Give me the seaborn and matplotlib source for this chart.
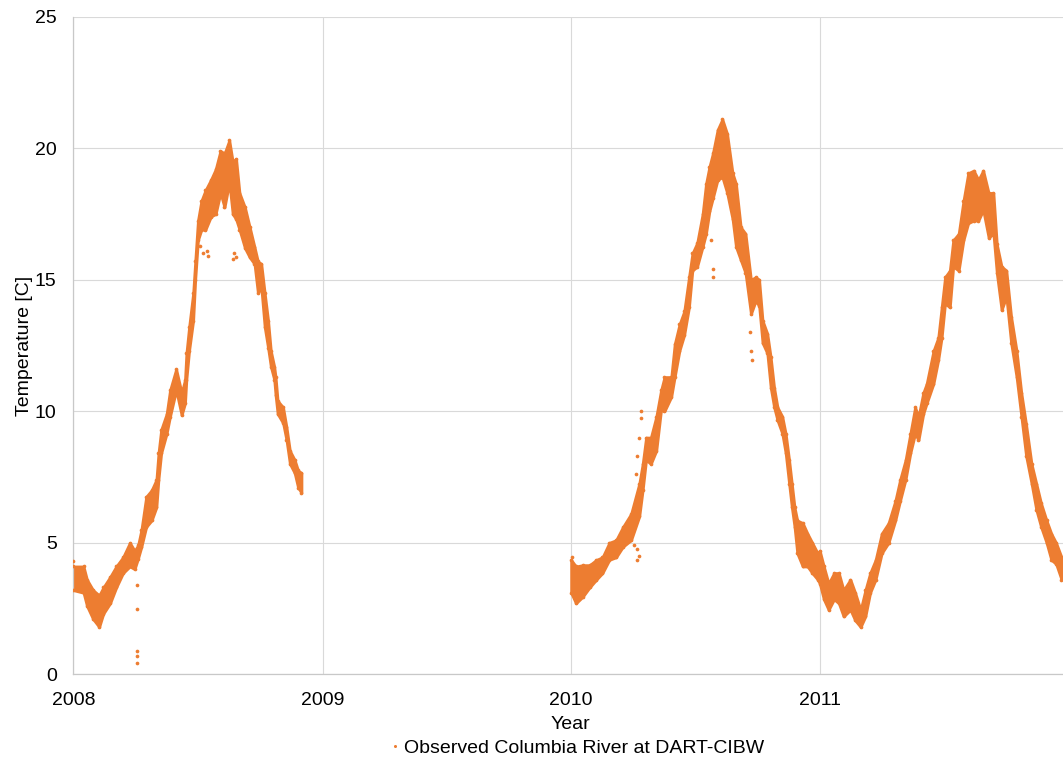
import numpy as np
import pandas as pd
import matplotlib
matplotlib.use("Agg")
import matplotlib.pyplot as plt
import matplotlib.dates as mdates
import seaborn as sns

# 2008 record: day since 2008-01-01, low / high of the daily scatter band [C]
days_2008 = [0, 15, 20, 29, 38, 44, 54, 63, 73, 83, 90, 95, 100, 107, 115, 122, 125,
             129, 137, 142, 151, 159, 164, 166, 170, 176, 179, 183, 188, 194, 202, 209,
             216, 222, 229, 234, 239, 244, 252, 259, 266, 271, 276, 281, 286, 290, 295,
             297, 300, 308, 313, 318, 325, 330, 335]
low_2008 = [3.2, 3.1, 2.6, 2.1, 1.8, 2.3, 2.7, 3.3, 3.85, 4.1, 4.0, 4.4, 4.85, 5.6, 5.85,
            6.35, 7.4, 8.4, 9.15, 9.8, 10.8, 9.85, 10.3, 11.2, 12.3, 13.45, 15.0, 16.5,
            16.9, 16.9, 17.4, 17.5, 18.3, 17.75, 18.7, 17.5, 17.3, 16.9, 16.2, 15.85, 15.6,
            14.5, 14.7, 13.2, 12.4, 11.7, 11.2, 10.6, 9.9, 9.55, 8.9, 8.0, 7.65, 7.1, 6.9]
high_2008 = [4.1, 4.1, 3.6, 3.2, 3.0, 3.3, 3.7, 4.1, 4.45, 5.0, 4.7, 4.9, 5.5, 6.75, 7.0,
             7.4, 8.4, 9.3, 9.9, 10.8, 11.6, 10.7, 11.2, 12.2, 13.2, 14.5, 15.7, 17.25,
             18.0, 18.4, 18.8, 19.2, 19.9, 19.8, 20.3, 19.5, 19.6, 18.3, 17.75, 17.0, 16.25,
             15.7, 15.6, 14.5, 13.45, 12.3, 11.7, 11.3, 10.4, 10.15, 9.4, 8.5, 8.15, 7.75,
             7.65]

# 2010-2011 record: day since 2010-01-01
days_1011 = [0, 7, 17, 27, 37, 46, 56, 66, 76, 88, 100, 105, 110, 117, 125, 132, 137, 147,
             152, 159, 166, 173, 178, 185, 193, 198, 203, 208, 215, 222, 229, 237, 242, 249,
             256, 264, 271, 276, 281, 288, 293, 298, 303, 310, 315, 320, 324, 328, 332, 340,
             347, 354, 362, 365, 371, 378, 386, 393, 400, 410, 417, 425, 432, 439, 447, 456,
             466, 476, 483, 491, 498, 505, 510, 517, 522, 532, 539, 544, 549, 556, 561, 569,
             576, 583, 591, 598, 605, 613, 620, 625, 632, 639, 646, 654, 661, 668, 676, 683,
             690, 698, 705, 712, 720]
low_1011 = [3.1, 2.7, 2.95, 3.3, 3.6, 3.85, 4.35, 4.45, 4.85, 5.1, 6.0, 7.0, 8.15, 8.0, 8.5,
            10.05, 10.0, 10.55, 11.3, 12.3, 12.9, 13.95, 15.35, 15.5, 16.25, 16.75, 17.6,
            18.1, 18.8, 18.9, 18.3, 17.3, 16.25, 15.75, 15.25, 13.7, 14.2, 14.0, 12.6, 12.2,
            10.9, 10.15, 9.65, 9.15, 8.4, 7.25, 6.35, 5.6, 4.6, 4.1, 4.1, 3.85, 3.6, 3.45,
            2.85, 2.45, 2.85, 2.7, 2.2, 2.45, 2.05, 1.8, 2.2, 3.1, 3.6, 4.6, 5.0, 5.85, 6.6,
            7.4, 8.4, 9.15, 8.9, 9.9, 10.3, 11.05, 11.95, 12.8, 14.1, 13.95, 15.5, 15.35,
            16.5, 17.15, 17.25, 17.25, 17.65, 16.6, 16.75, 15.25, 13.85, 14.35, 12.6, 11.3,
            9.8, 8.3, 7.25, 6.25, 5.6, 5.0, 4.35, 4.2, 3.6]
high_1011 = [4.35, 4.1, 4.15, 4.15, 4.35, 4.45, 5.0, 5.1, 5.6, 6.1, 7.25, 8.0, 9.0, 9.0, 9.8,
             10.8, 11.3, 11.3, 12.55, 13.3, 13.8, 15.1, 16.0, 16.4, 17.5, 18.65, 19.3, 19.8,
             20.7, 21.1, 20.55, 19.05, 18.65, 17.0, 16.75, 15.0, 15.1, 15.0, 13.45, 12.95,
             12.05, 10.9, 10.15, 9.8, 9.15, 8.15, 7.25, 6.35, 5.85, 5.75, 5.35, 5.0, 4.6, 4.7,
             4.1, 3.45, 3.85, 3.85, 3.2, 3.6, 3.1, 2.45, 3.2, 3.85, 4.35, 5.35, 5.75, 6.6,
             7.4, 8.15, 9.15, 10.15, 9.8, 10.7, 11.05, 12.3, 12.8, 13.95, 15.1, 15.35, 16.5,
             16.75, 18.0, 19.05, 19.15, 18.8, 19.15, 18.3, 18.3, 16.35, 15.5, 15.35, 13.6,
             12.3, 10.7, 9.5, 8.0, 7.25, 6.5, 5.85, 5.35, 5.0, 4.45]

# isolated readings away from the main band
outlier_days_2008 = [0, 93, 94, 94, 94, 94, 186, 190, 196, 198, 234, 236, 239]
outlier_vals_2008 = [4.3, 3.4, 2.5, 0.9, 0.7, 0.43, 16.3, 16.0, 16.1, 15.9, 15.8, 16.0, 15.85]
outlier_days_1011 = [92, 95, 96, 97, 97, 100, 100, 103, 103, 205, 208, 208, 258, 262, 264,
                     265, 1]
outlier_vals_1011 = [4.9, 7.6, 4.35, 8.3, 4.75, 9.0, 4.5, 10.0, 9.75, 16.5, 15.4, 15.1, 15.4,
                     13.0, 12.3, 11.95, 4.45]

orange = "#ED7D31"


def to_num(start, days):
    return mdates.date2num(pd.Timestamp(start) + pd.to_timedelta(days, unit="D"))


sns.set_theme(style="white")
plt.rcParams["font.family"] = ["Liberation Sans", "DejaVu Sans"]

fig = plt.figure(figsize=(10.63, 7.59), dpi=100)
ax = fig.add_axes([73.3 / 1063, 84.7 / 759, 995 / 1063, 657.6 / 759])

segments = [("2008-01-01", days_2008, low_2008, high_2008),
            ("2010-01-01", days_1011, low_1011, high_1011)]
for start, days, lo, hi in segments:
    x = to_num(start, days)
    # the edge line gives the band the width of the dense markers
    ax.fill_between(x, lo, hi, facecolor=orange, edgecolor=orange, lw=2.0,
                    joinstyle="round", zorder=2)
    sns.scatterplot(x=np.concatenate([x, x]), y=lo + hi, ax=ax, color=orange,
                    s=7, linewidth=0, zorder=3)

for start, days, vals in [("2008-01-01", outlier_days_2008, outlier_vals_2008),
                          ("2010-01-01", outlier_days_1011, outlier_vals_1011)]:
    sns.scatterplot(x=to_num(start, days), y=vals, ax=ax, color=orange,
                    s=7, linewidth=0, zorder=3)

ax.set_xlim(to_num("2008-01-01", [0])[0], to_num("2012-01-01", [0])[0])
ax.set_ylim(0, 25)
ax.set_xticks(to_num("2008-01-01", [0, 366, 731, 1096]))
ax.xaxis.set_major_formatter(mdates.DateFormatter("%Y"))
ax.set_yticks([0, 5, 10, 15, 20, 25])

ax.grid(True, color="#D9D9D9", lw=0.8)
ax.set_axisbelow(True)
for side in ["top", "right"]:
    ax.spines[side].set_visible(False)
for side in ["left", "bottom"]:
    ax.spines[side].set_color("#C8C8C8")
    ax.spines[side].set_linewidth(0.9)

ax.tick_params(axis="x", length=0, pad=12.5, labelsize=14, labelcolor="#000000")
ax.tick_params(axis="y", length=0, pad=12, labelsize=14, labelcolor="#000000")
ax.set_xlabel("Year", fontsize=14, labelpad=5, color="#000000")
ax.set_ylabel("Temperature [C]", fontsize=14, labelpad=1, color="#000000")

handle = plt.Line2D([], [], marker="o", ls="none", color=orange, markersize=2.2,
                    markeredgewidth=0)
fig.legend([handle], ["Observed Columbia River at DART-CIBW"], loc="center",
           bbox_to_anchor=(577 / 1063, 1 - 748 / 759), frameon=False, fontsize=14,
           handlelength=0.6, handletextpad=0.15, borderpad=0, labelcolor="#000000")

fig.savefig("out.png", dpi=100)
